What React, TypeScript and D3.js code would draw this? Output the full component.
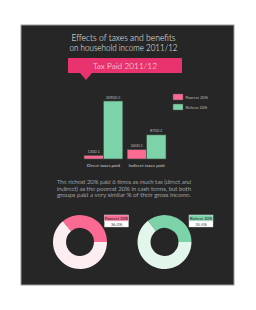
import * as React from "react";
import { scaleBand, scaleLinear, pie, arc } from "d3";

const categories = ["Direct taxes paid", "Indirect taxes paid"];
const groups = ["Poorest 20%", "Richest 20%"];
const poorestTax = [1300, 3400];
const richestTax = [20900, 8700];
const shareLabels = ["Poorest 20%", "Richest 20%"];
const shareOfIncome = [36.0, 35.5];
const textLines = [
  "The richest 20% paid 6 times as much tax (direct and",
  "indirect) as the poorest 20% in cash terms, but both",
  "groups paid a very similar % of their gross income.",
];

const PINK = "#fb6a93";
const GREEN = "#7dd3a9";
const LIGHT = ["#fcedf1", "#e3f6ec"];
const FONT = "Lato, 'DejaVu Sans Condensed', sans-serif";

const App = () => {
  const x0 = scaleBand<string>().domain(categories).range([84, 166]).paddingInner(0.1);
  const x1 = scaleBand<string>().domain(groups).range([0, x0.bandwidth()]);
  const y = scaleLinear().domain([0, 20900]).range([159, 101]);
  const series = [poorestTax, richestTax];
  const colors = [PINK, GREEN];

  const donutArc = arc<any>().innerRadius(14).outerRadius(27);
  const donutX = scaleLinear().domain([0, 1]).range([80, 164.5]);

  return (
    <svg width={256} height={310} style={{ position: "absolute", left: 0, top: 0 }}>
      <rect x={0} y={0} width={256} height={310} fill="#fff" />
      <rect x={21} y={25} width={213} height={260} fill="#262626" stroke="#9a9a9a" strokeWidth={1} />
      <g fontFamily={FONT} fill="#f2f2f2" textAnchor="middle" fontWeight={300}>
        <text x={123.5} y={41} fontSize={9.5} textLength={104} lengthAdjust="spacingAndGlyphs">
          Effects of taxes and benefits
        </text>
        <text x={123.5} y={51} fontSize={9.5} textLength={108} lengthAdjust="spacingAndGlyphs">
          on household income 2011/12
        </text>
      </g>
      <rect x={68} y={58} width={114} height={15} fill="#e8336e" />
      <path d="M80,73 L86,80 L92,73 Z" fill="#e8336e" />
      <text
        x={125}
        y={69}
        fontSize={8.5}
        fill="#fff"
        textAnchor="middle"
        fontFamily={FONT}
        fontWeight={300}
        textLength={64}
        lengthAdjust="spacingAndGlyphs"
      >
        Tax Paid 2011/12
      </text>

      {categories.map((c, ci) => (
        <g key={c}>
          {series.map((s, si) => {
            const bx = (x0(c) ?? 0) + (x1(groups[si]) ?? 0);
            return (
              <g key={si}>
                <rect
                  x={bx}
                  y={y(s[ci])}
                  width={x1.bandwidth()}
                  height={y(0) - y(s[ci])}
                  fill={colors[si]}
                  stroke="#3d4a44"
                  strokeWidth={0.6}
                />
                <text
                  x={bx + x1.bandwidth() / 2}
                  y={y(s[ci]) - 2.5}
                  fontSize={4}
                  fill="#bbb"
                  textAnchor="middle"
                  fontFamily={FONT}
                >
                  {s[ci]} £
                </text>
              </g>
            );
          })}
          <text
            x={(x0(c) ?? 0) + x0.bandwidth() / 2}
            y={167}
            fontSize={4.5}
            fill="#ccc"
            textAnchor="middle"
            fontFamily={FONT}
          >
            {c}
          </text>
        </g>
      ))}

      {groups.map((g, i) => (
        <g key={g} transform={`translate(173,${94 + i * 10})`}>
          <rect width={10} height={6} fill={colors[i]} stroke="#555" strokeWidth={0.5} />
          <text x={12.5} y={4.5} fontSize={4} fill="#bbb" fontFamily={FONT}>
            {g}
          </text>
        </g>
      ))}

      <g fontFamily={FONT} fontSize={6.6} fill="#e6e6e6" fontWeight={300}>
        {textLines.map((t, i) => (
          <text key={i} x={57} y={184 + i * 6.6} textLength={134} lengthAdjust="spacingAndGlyphs">
            {t}
          </text>
        ))}
      </g>

      {shareOfIncome.map((v, i) => {
        const frac = v / 100;
        const start = Math.PI / 2 - frac * 2 * Math.PI;
        const slices = pie<number>()
          .sort(null)
          .startAngle(start)
          .endAngle(start + 2 * Math.PI)([frac, 1 - frac]);
        const cx = donutX(i);
        return (
          <g key={i}>
            <g transform={`translate(${cx},242)`}>
              {slices.map((sl, k) => (
                <path key={k} d={donutArc(sl) ?? ""} fill={k === 0 ? colors[i] : LIGHT[i]} />
              ))}
            </g>
            <g transform={`translate(${cx + 24.5},215)`} fontFamily={FONT}>
              <rect width={24} height={6} fill={i === 0 ? PINK : GREEN} stroke="#fff" strokeWidth={0.4} />
              <rect y={6} width={24} height={6} fill="#fff" stroke="#ccc" strokeWidth={0.4} />
              <text x={12} y={4.6} fontSize={4.2} fill="#222" textAnchor="middle">
                {shareLabels[i]}
              </text>
              <text x={12} y={10.6} fontSize={4.2} fill="#444" textAnchor="middle">
                {v.toFixed(1)}%
              </text>
            </g>
          </g>
        );
      })}
    </svg>
  );
};

export default App;
